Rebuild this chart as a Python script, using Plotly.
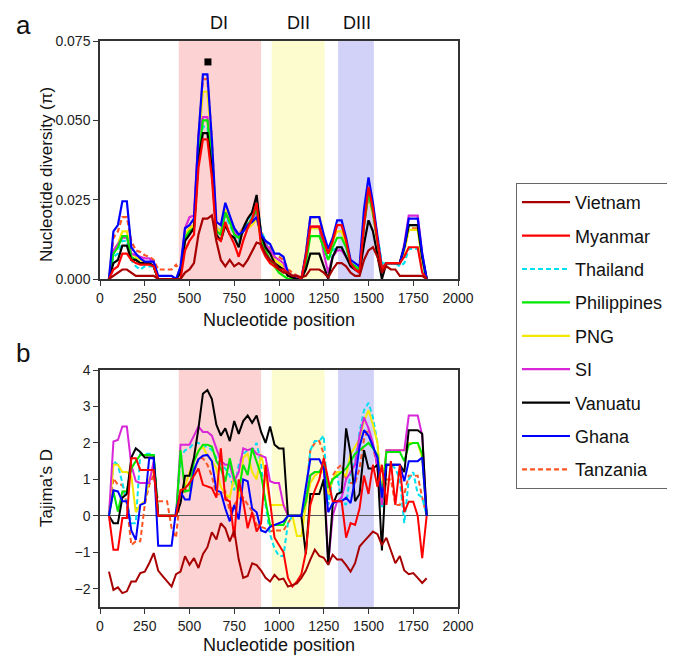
import plotly.graph_objects as go

# page body has an 8px margin, so the figure is drawn 8px smaller and shifted
OFF = 8
W, H = 675 - OFF, 657 - OFF

# window centre positions (nt)
positions = [50, 75, 100, 125, 150, 175, 200, 225,
             250, 275, 300, 325, 350, 375, 400, 425,
             450, 475, 500, 525, 550, 575, 600, 625,
             650, 675, 700, 725, 750, 775, 800, 825,
             850, 875, 900, 925, 950, 975, 1000, 1025,
             1050, 1075, 1100, 1125, 1150, 1175, 1200, 1225,
             1250, 1275, 1300, 1325, 1350, 1375, 1400, 1425,
             1450, 1475, 1500, 1525, 1550, 1575, 1600, 1625,
             1650, 1675, 1700, 1725, 1750, 1775, 1800, 1825]

# nucleotide diversity, in units of 1e-3
vietnam_pi = [0, 1, 2, 3, 3, 2, 1, 1,
              1, 1, 1, 0, 0, 0, 0, 0,
              0, 2, 3, 5, 14, 19, 19, 20,
              12, 6, 4, 6, 4, 5, 4, 6,
              9, 11.5, 11, 8, 6, 5, 3, 2,
              2, 1, 1, 0.5, 1, 3, 3, 3,
              2, 0.5, 3, 5, 5, 4, 2, 1,
              1, 6, 9, 10, 7, 2, 4, 3,
              3, 1, 1, 1, 1, 1, 1, 0]
myanmar_pi = [0, 3, 4, 8, 8, 6, 5, 4.5,
              4.5, 4.5, 4, 0, 0, 0, 0, 0,
              0, 9, 12, 14, 35, 44, 44, 32,
              13, 12, 18, 14, 11, 7, 12, 16,
              19, 24, 10, 7, 5, 4, 3, 3,
              2, 1, 1, 0, 7, 16.5, 16.5, 16.5,
              12, 8, 12, 17, 17, 12, 5, 3,
              2, 17, 29, 22, 12, 3, 5, 5,
              5, 5, 7, 10, 10, 10, 2, 0]
thailand_pi = [0, 7, 8, 12, 12, 6, 4, 3,
               4, 4, 4, 0, 0, 0, 0, 0,
               2, 13, 15, 16, 38, 48, 48, 37,
               15, 16, 20, 17, 14, 12, 15, 18,
               21, 25, 15, 12, 9, 6, 5, 4,
               1, 1, 0, 0, 6, 16, 16, 16,
               10, 6, 9, 10, 10, 7, 5, 4,
               3, 18, 28, 22, 13, 5, 5, 5,
               5, 4, 5, 9.5, 9.5, 9.5, 4, 0]
philippines_pi = [0, 8, 10, 13.5, 13.5, 7, 6, 5,
                  5, 5, 4, 0, 0, 0, 0, 0,
                  2, 13, 15, 16, 38, 50, 50, 38,
                  15, 14, 21, 18, 14, 13, 15, 17,
                  19, 22, 12, 9, 6, 4, 2, 1,
                  0, 0, 0, 0, 5, 13.5, 13.5, 13.5,
                  10, 6, 10, 13, 13, 10, 5, 4,
                  3, 17, 27, 21, 12, 3, 5, 5,
                  5, 5, 10, 17, 17, 17, 7, 0]
png_pi = [0, 9, 11, 15, 15, 8, 7, 6,
          5, 5, 4, 0, 0, 0, 0, 0,
          2, 14, 16, 17, 42, 59, 59, 42,
          16, 15, 22, 19, 15, 14, 15, 16,
          17, 19, 13, 11, 9, 6, 5, 4,
          1, 1, 0.5, 0, 7, 16, 16, 16,
          12, 8, 12, 15, 15, 11, 5, 4,
          3, 17, 26, 20, 12, 3, 5, 5,
          5, 5, 9, 15.5, 15.5, 15.5, 6, 0]
si_pi = [0, 9, 11, 13, 13, 8, 7.5, 7,
         6.5, 6.5, 5, 0, 0, 0, 0, 0,
         2, 16, 19.5, 20, 45, 51, 51, 40,
         15, 14, 21, 18, 15, 13, 15, 17,
         19, 21, 14, 11, 9, 7, 6, 5,
         1, 1, 0.5, 0, 7, 16.5, 16.5, 16.5,
         8, 2, 7, 9, 9, 7, 5, 3,
         3, 17, 27, 21, 12, 2, 5, 5,
         5, 5, 11, 20, 20, 20, 8, 0]
vanuatu_pi = [0, 5, 6, 10.5, 10.5, 6, 6, 5,
              5, 5, 4, 0, 0, 0, 0, 0,
              2, 12, 14, 16, 38, 46, 46, 35,
              14, 12, 17, 14, 13, 10, 16, 19,
              21, 26.5, 14, 10, 8, 5, 4, 3,
              1, 0.5, 0, 0, 3, 8, 8, 8,
              4, 0, 7, 10, 10, 7, 4, 3,
              2, 11, 18.5, 15, 8, 0, 5, 5,
              5, 5, 10, 17, 17, 17, 7, 0]
ghana_pi = [0, 15, 17, 24.5, 24.5, 10, 8, 6.5,
            5.5, 5.5, 5.5, 1, 1, 1, 1, 0,
            4, 16, 17, 19, 45, 64.5, 64.5, 44,
            18, 17, 24, 20, 16, 14, 15, 17,
            18, 19.5, 14, 12, 11, 8, 8, 7,
            2, 1, 1, 0, 8, 19.5, 19.5, 19.5,
            14, 9.5, 13, 18.5, 18.5, 13, 6, 5,
            4, 22, 32, 24, 14, 3, 5, 5,
            5, 5, 10, 19, 19, 19, 8, 0]
tanzania_pi = [0, 13, 15, 19.5, 19.5, 12, 9, 8.5,
               7.5, 7, 6, 3, 3, 3, 3, 4.5,
               2, 14, 16, 18, 45, 63, 63, 44,
               16, 15, 21, 18, 16, 14, 16, 19,
               21, 24, 15, 12, 10, 7, 7, 6,
               3, 2, 1, 0, 8, 19.5, 19.5, 19.5,
               13, 8, 12, 17, 17, 12, 5, 4,
               3, 18, 29, 22, 13, 4, 5, 5,
               5, 5, 9, 16, 16, 16, 6, 0]

# Tajima's D
vietnam_d = [-1.53, -2.03, -1.96, -2.12, -2.07, -1.8, -1.8, -1.57,
             -1.53, -1.3, -1.02, -1.5, -1.65, -1.8, -1.94, -1.6,
             -1.53, -1.11, -1.34, -1.16, -1.43, -1.05, -0.86, -0.45,
             -0.65, -0.2, -0.34, -0.7, -0.4, -1.2, -1.7, -1.65,
             -1.3, -1.35, -1.5, -1.7, -1.8, -1.62, -1.75, -1.72,
             -1.94, -1.9, -1.85, -1.7, -1.5, -1.2, -0.93, -1.1,
             -1.15, -1.34, -1.07, -1.2, -1.2, -1.35, -1.53, -1.3,
             -0.84, -0.7, -0.57, -0.43, -0.5, -0.8, -0.6, -0.95,
             -1.3, -1.1, -1.5, -1.6, -1.57, -1.7, -1.84, -1.71]
myanmar_d = [0, -0.93, -0.93, -0.06, -0.06, 1.58, 1.58, 1.26,
             1.26, 1.26, 1.26, 0, 0, 0, 0, 0,
             0.7, 0.75, 0.9, 1.12, 1.3, 0.85, 0.8, 0.76,
             0.5, 1.85, 0.45, 0.4, -0.6, 1.0, 0.4, -0.34,
             0.1, -0.43, -0.2, 1.4, 0.4, -0.6, -0.8, -1.0,
             -1.7, -1.94, -1.8, -1.6, -1.0, 0.3, 0.7, 1.0,
             1.58, 0.94, 0.4, 0.4, 0.4, -0.6, -0.2, -0.25,
             0.2, 1.1, 0.6, 1.4, 0.8, 1.4, 0.3, 1.5,
             0.3, 1.4, 0.1, 0.39, 0.39, 0.0, -1.16, 0]
thailand_d = [0, 1.5, 1.4, 0.94, 0.4, -0.2, -0.2, 1.7,
              1.7, 1.7, 1.7, 0, 0, 0, 0, 0,
              1.6, 1.8, 1.85, 2.0, 2.0, 1.9, 1.9, 1.8,
              1.6, 1.4, 1.3, 1.1, 0.7, 1.4, 1.7, 1.8,
              1.8, 2.0, 1.4, 0.3, -0.5, -0.9, -1.1, -1.1,
              -0.2, 0, 0, 0, 0.5, 1.8, 2.05, 2.05,
              2.2, 0.3, 1.0, 1.1, 0.4, 0.3, 1.2, 1.5,
              2.3, 2.9, 3.1, 2.7, 2.0, 0.2, 1.4, 1.4,
              1.3, 1.0, -0.2, 1.0, 1.2, 0.6, 0.5, 0]
philippines_d = [0, 0.67, 0.12, 0.67, 0.67, 1.3, 1.5, 1.67,
                 1.67, 1.67, 1.67, 0, 0, 0, 0, 0,
                 1.8, 0.67, 0.7, 1.5, 1.77, 1.95, 1.95, 1.9,
                 1.5, 1.3, 0.94, 1.58, 1.03, 0.67, 1.4, 1.12,
                 1.85, 1.5, 1.12, 0.4, -0.25, -0.25, -0.25, -0.25,
                 0, 0, 0, 0, 0.4, 1.12, 1.2, 1.2,
                 1.4, 0.76, 1.0, 1.1, 1.2, 1.3, 1.5, 1.7,
                 1.8, 1.9, 2.0, 1.85, 1.67, 0.5, 1.75, 1.75,
                 1.75, 1.75, 1.5, 1.95, 2.0, 2.0, 1.7, 0]
png_d = [0, 1.4, 1.4, 1.2, 1.2, 1.1, 0.1, 0.3,
         0.4, 1.0, 1.3, 0, 0, 0, 0, 0,
         0.7, 0.8, 1.2, 1.5, 1.8, 1.9, 1.65, 1.5,
         1.3, 0.8, 0.6, 0.5, 1.1, 0.5, 1.6, 1.7,
         1.2, 1.0, 1.7, 1.1, 0.3, 0.3, 0.3, 0.3,
         0, 0, -0.55, -0.55, 0.3, 0.9, 1.1, 1.2,
         1.2, 0.6, 1.0, 1.2, 1.2, 1.1, 1.7, 1.9,
         2.1, 2.6, 2.9, 2.5, 2.0, 0.6, 1.8, 1.8,
         1.8, 1.8, 1.8, 2.0, 2.0, 2.0, 1.6, 0]
si_d = [0, 2.04, 2.08, 2.45, 2.45, 1.4, 0.95, 0.9,
        0.9, 0.9, 1.5, 0, 0, 0, 0, 0,
        1.95, 1.95, 1.95, 2.2, 2.45, 2.3, 2.3, 2.2,
        1.85, 1.5, 1.4, 1.4, 0.95, 1.2, 1.85, 1.8,
        1.85, 1.7, 1.65, 1.6, 0.95, 0.9, 0.9, 0.3,
        0, 0, 0, 0, 0.4, 1.1, 1.2, 1.2,
        1.35, -1.3, 0, 0.4, 0.5, 1.0, 1.2, 1.4,
        2.2, 2.7, 2.4, 2.0, 1.3, 0.3, 1.8, 1.8,
        1.8, 1.8, 1.8, 2.75, 2.75, 2.75, 2.2, 0]
vanuatu_d = [0, -0.2, -0.2, 0.5, 0.6, 1.6, 1.85, 1.75,
             1.6, 1.6, 1.6, 0, 0, 0, 0, 0,
             0.35, 1.1, 1.1, 1.6, 2.4, 3.35, 3.45, 3.2,
             2.5, 2.2, 2.4, 2.05, 2.6, 2.25, 2.6, 2.75,
             2.55, 2.75, 2.3, 2.0, 2.45, 1.95, 1.85, 1.85,
             0, 0, 0, 0, -1.05, 0.6, 0.6, 0.6,
             1.0, -1.35, 0.3, 0.6, 0.65, 2.4, 1.7, 0.4,
             0.6, 1.8, 1.3, 1.3, 1.4, -0.95, 1.4, 1.4,
             1.4, 1.4, 1.2, 2.35, 2.35, 2.35, 2.25, 0]
ghana_d = [0, 0.7, 0.67, 0.4, 0.4, -0.4, -0.66, 0.3,
           0.35, 1.58, 1.58, -0.82, -0.82, -0.82, -0.82, 0.15,
           0.65, 0.45, 0.45, 1.25, 1.55, 1.65, 1.67, 1.5,
           0.7, 0.65, 0.2, -0.15, 0.3, -0.1, 1.0, 0.95,
           0.2, 0.1, -0.4, -0.45, -0.3, -0.25, -0.2, -0.15,
           0, 0, 0, 0, 0.8, 1.55, 1.55, 1.55,
           1.3, 0.1, 0.35, 0.4, 0.4, 0.5, 0.35, 1.0,
           1.9, 2.35, 2.2, 1.9, 1.6, 0.5, 1.4, 1.4,
           1.4, 1.4, 0.95, 1.5, 1.5, 1.5, 1.6, 0]
tanzania_d = [0, 1.03, 0.85, 0.85, 0.3, -0.8, -0.7, -0.7,
              0.3, 0.85, 1.12, 0.4, 0.4, 0.4, -0.34, -0.6,
              0.67, 0.67, 0.9, 1.2, 1.58, 1.58, 1.4, 1.1,
              0.58, 0.6, 0.67, 0.12, 0.3, 0.48, 0.5, 0.3,
              0.12, -0.25, -0.3, -0.35, -0.43, -0.4, -0.4, -0.4,
              -0.2, 0, 0, 0, 0.6, 1.8, 2.0, 2.05,
              1.7, 0.3, 1.1, 1.3, 1.4, 1.0, 0.9, 0.9,
              1.3, 2.1, 2.4, 1.9, 1.3, 0.4, 1.0, 1.0,
              0.3, 0.3, 0.6, 1.1, 1.1, 1.1, 0.5, 0]

# domains (nt)
domain_names = ["DI", "DII", "DIII"]
domain_start = [440, 960, 1330]
domain_end = [900, 1255, 1530]
domain_fill = ["rgba(250,180,180,0.6)", "rgba(252,250,180,0.65)", "rgba(180,180,245,0.6)"]

# highlighted window in panel a
mark_pos = [603]
mark_pi = [0.0684]

# (name, pi, D, colour, dash, legend rank), listed in draw order
series = [
    ("Tanzania", tanzania_pi, tanzania_d, "#FF5522", "5px,3px", 9),
    ("Thailand", thailand_pi, thailand_d, "#00E0F0", "5px,3px", 3),
    ("PNG", png_pi, png_d, "#F5E800", "solid", 5),
    ("SI", si_pi, si_d, "#D826D8", "solid", 6),
    ("Philippines", philippines_pi, philippines_d, "#00E800", "solid", 4),
    ("Vanuatu", vanuatu_pi, vanuatu_d, "#000000", "solid", 7),
    ("Ghana", ghana_pi, ghana_d, "#0000FF", "solid", 8),
    ("Myanmar", myanmar_pi, myanmar_d, "#FF0000", "solid", 2),
    ("Vietnam", vietnam_pi, vietnam_d, "#A80000", "solid", 1),
]

FONT = "Arial, Liberation Sans, sans-serif"

fig = go.Figure()
for name, pi, d, col, dash, rank in series:
    fig.add_trace(go.Scatter(x=positions, y=[v / 1000 for v in pi], mode="lines",
                             name=name, legendgroup=name, legendrank=rank,
                             line=dict(color=col, width=2.2, dash=dash),
                             xaxis="x", yaxis="y"))
    fig.add_trace(go.Scatter(x=positions, y=d, mode="lines", name=name,
                             legendgroup=name, showlegend=False,
                             line=dict(color=col, width=2, dash=dash),
                             xaxis="x2", yaxis="y2"))

fig.add_trace(go.Scatter(x=mark_pos, y=mark_pi, mode="markers", showlegend=False,
                         marker=dict(symbol="square", size=7, color="black"),
                         xaxis="x", yaxis="y"))

shapes = []
for xr, yr in (("x", "y"), ("x2", "y2")):
    for s, e, c in zip(domain_start, domain_end, domain_fill):
        shapes.append(dict(type="rect", xref=xr, yref=yr + " domain", x0=s, x1=e, y0=0, y1=1,
                           fillcolor=c, line=dict(width=0), layer="below"))


# screen pixel (in the 675x657 window) -> paper coordinates
def px(x, y):
    return (x - OFF) / W, 1 - (y - OFF) / H


annotations = []


def label(text, x, y, size, angle=0):
    xp, yp = px(x, y)
    annotations.append(dict(text=text, x=xp, y=yp, xref="paper", yref="paper",
                            showarrow=False, textangle=angle,
                            font=dict(size=size, color="#111", family=FONT),
                            xanchor="center", yanchor="middle"))


label("a", 23, 25, 26)
label("b", 23, 353, 26)
for nm, xx in zip(domain_names, [219, 298, 357]):
    label(nm, xx, 23, 18)
label("Nucleotide diversity (\u03c0)", 46, 175, 17, -90)
label("Tajima\u2019s D", 46, 488, 17, -90)
label("Nucleotide position", 279, 320, 18)
label("Nucleotide position", 279, 645, 18)

axis_common = dict(showline=True, linecolor="#333", linewidth=1.5, mirror=True,
                   ticks="outside", ticklen=5, tickcolor="#333", showgrid=False,
                   tickfont=dict(size=14, color="#222", family=FONT))

xl, _ = px(100, 0)
xr_, _ = px(458, 0)
_, top_a = px(0, 41)
_, bot_a = px(0, 279)
_, top_b = px(0, 370)
_, bot_b = px(0, 607)
leg_x, leg_y = px(516, 183)

fig.update_layout(
    width=W, height=H,
    margin=dict(l=0, r=0, t=0, b=0, autoexpand=False),
    paper_bgcolor="white", plot_bgcolor="white",
    font=dict(family=FONT, color="#111"),
    xaxis=dict(domain=[xl, xr_], anchor="y", range=[0, 2000], tickvals=list(range(0, 2001, 250)),
               zeroline=False, **axis_common),
    yaxis=dict(domain=[bot_a, top_a], anchor="x", range=[0, 0.075],
               tickvals=[0, 0.025, 0.05, 0.075], tickformat=".3f", zeroline=False, **axis_common),
    xaxis2=dict(domain=[xl, xr_], anchor="y2", range=[0, 2000], tickvals=list(range(0, 2001, 250)),
                zeroline=False, **axis_common),
    yaxis2=dict(domain=[bot_b, top_b], anchor="x2", range=[-2.5, 4],
                tickvals=[-2, -1, 0, 1, 2, 3, 4], zeroline=True, zerolinecolor="#555",
                zerolinewidth=1, **axis_common),
    shapes=shapes,
    annotations=annotations,
    showlegend=True,
    legend=dict(x=leg_x, y=leg_y, xanchor="left", yanchor="top",
                bgcolor="white", bordercolor="#666", borderwidth=1,
                font=dict(size=18, color="#111", family=FONT),
                tracegroupgap=7, itemwidth=48),
)

fig.write_html("out.html")
